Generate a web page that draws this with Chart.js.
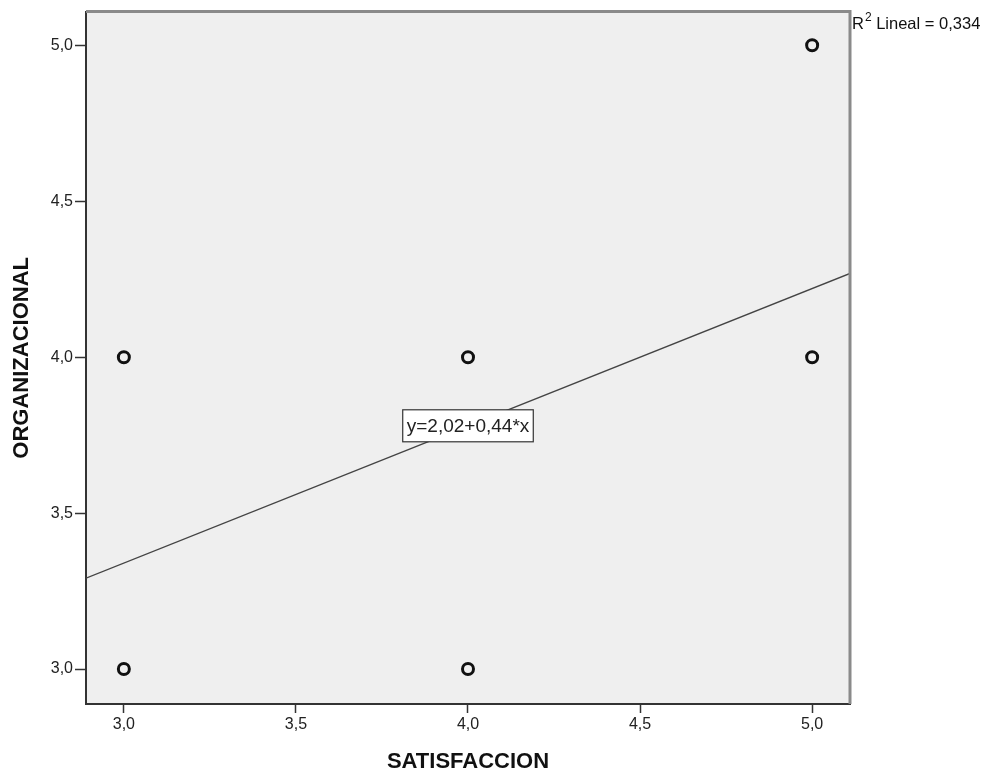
<!DOCTYPE html>
<html>
<head>
<meta charset="utf-8">
<script src="https://cdn.jsdelivr.net/npm/chart.js@4"></script>
<style>
  html, body { margin: 0; padding: 0; background: #ffffff; }
  #wrap { width: 988px; height: 776px; position: relative; }
</style>
</head>
<body>
<div id="wrap"><canvas id="c" width="988" height="776"></canvas></div>
<script>
// ---- data ----
const satisfaccion = [3, 3, 4, 4, 5, 5];
const organizacional = [4, 3, 4, 3, 5, 4];
const xTicks = [3.0, 3.5, 4.0, 4.5, 5.0];
const yTicks = [3.0, 3.5, 4.0, 4.5, 5.0];
const xRange = [2.89, 5.11];
const yRange = [2.888, 5.108];
const fitIntercept = 2.02;
const fitSlope = 0.44;
const fitLabelX = 4.0;
const fitLabel = 'y=2,02+0,44*x';
const r2Text = 'Lineal = 0,334';
const xTitle = 'SATISFACCION';
const yTitle = 'ORGANIZACIONAL';

const points = satisfaccion.map((x, i) => ({ x: x, y: organizacional[i] }));
const fitLine = xRange.map(x => ({ x: x, y: fitIntercept + fitSlope * x }));
const fmt = v => Number(v).toFixed(1).replace('.', ',');
const FONT = '"Liberation Sans", Arial, "DejaVu Sans", sans-serif';

const decor = {
  id: 'decor',
  beforeDraw(chart) {
    const { ctx, chartArea: a } = chart;
    ctx.save();
    ctx.fillStyle = '#efefef';
    ctx.fillRect(a.left, a.top, a.right - a.left, a.bottom - a.top);
    ctx.restore();
  },
  afterDraw(chart) {
    const { ctx, chartArea: a, scales } = chart;
    ctx.save();
    // top & right frame
    ctx.strokeStyle = '#8a8a8a';
    ctx.lineWidth = 3;
    ctx.beginPath();
    ctx.moveTo(a.left, a.top);
    ctx.lineTo(a.right, a.top);
    ctx.lineTo(a.right, a.bottom);
    ctx.stroke();

    // equation label box on the fit line
    const px = scales.x.getPixelForValue(fitLabelX);
    const py = scales.y.getPixelForValue(fitIntercept + fitSlope * fitLabelX);
    ctx.font = '19px ' + FONT;
    const w = ctx.measureText(fitLabel).width + 8;
    const h = 32;
    ctx.fillStyle = '#ffffff';
    ctx.fillRect(px - w / 2, py - h / 2, w, h);
    ctx.strokeStyle = '#333333';
    ctx.lineWidth = 1.2;
    ctx.strokeRect(px - w / 2, py - h / 2, w, h);
    ctx.fillStyle = '#222222';
    ctx.textAlign = 'center';
    ctx.textBaseline = 'middle';
    ctx.fillText(fitLabel, px, py + 1);

    // R² label
    const rx = a.right + 2;
    ctx.textAlign = 'left';
    ctx.textBaseline = 'alphabetic';
    ctx.font = '16.5px ' + FONT;
    ctx.fillStyle = '#111111';
    ctx.fillText('R', rx, 29);
    const rw = ctx.measureText('R').width;
    ctx.font = '12px ' + FONT;
    ctx.fillText('2', rx + rw + 1, 21);
    const sw = ctx.measureText('2').width;
    ctx.font = '16.5px ' + FONT;
    ctx.fillText(' ' + r2Text, rx + rw + sw + 1, 29);
    ctx.restore();
  }
};

new Chart(document.getElementById('c'), {
  type: 'scatter',
  data: {
    datasets: [
      {
        type: 'line',
        data: fitLine,
        borderColor: '#444444',
        borderWidth: 1.3,
        pointRadius: 0,
        fill: false,
        order: 2
      },
      {
        data: points,
        pointStyle: 'circle',
        pointRadius: 5.5,
        pointBorderWidth: 3,
        borderColor: '#111111',
        backgroundColor: 'rgba(0,0,0,0)',
        order: 1
      }
    ]
  },
  options: {
    responsive: false,
    animation: false,
    layout: { padding: { left: 0, right: 138, top: 8, bottom: 0 } },
    plugins: { legend: { display: false }, tooltip: { enabled: false } },
    scales: {
      x: {
        type: 'linear',
        min: xRange[0],
        max: xRange[1],
        afterBuildTicks: s => { s.ticks = xTicks.map(v => ({ value: v })); },
        afterFit: s => { s.height = 72; },
        grid: { drawOnChartArea: false, drawTicks: true, tickLength: 9, tickColor: '#333333', tickWidth: 1.5 },
        border: { display: true, color: '#333333', width: 2 },
        ticks: { callback: v => fmt(v), color: '#222222', font: { family: FONT, size: 16 }, padding: 2, maxRotation: 0 },
        title: { display: true, text: xTitle, color: '#111111', font: { family: FONT, size: 22, weight: 'bold' }, padding: { top: 0, bottom: 1 } }
      },
      y: {
        type: 'linear',
        min: yRange[0],
        max: yRange[1],
        afterBuildTicks: s => { s.ticks = yTicks.map(v => ({ value: v })); },
        afterFit: s => { s.width = 86; },
        grid: { drawOnChartArea: false, drawTicks: true, tickLength: 11, tickColor: '#333333', tickWidth: 1.5 },
        border: { display: true, color: '#333333', width: 2 },
        ticks: { callback: v => fmt(v), color: '#222222', font: { family: FONT, size: 16 }, padding: 2 },
        title: { display: true, text: yTitle, color: '#111111', font: { family: FONT, size: 22, weight: 'bold' }, padding: { top: 9, bottom: 0 } }
      }
    }
  },
  plugins: [decor]
});
</script>
</body>
</html>
